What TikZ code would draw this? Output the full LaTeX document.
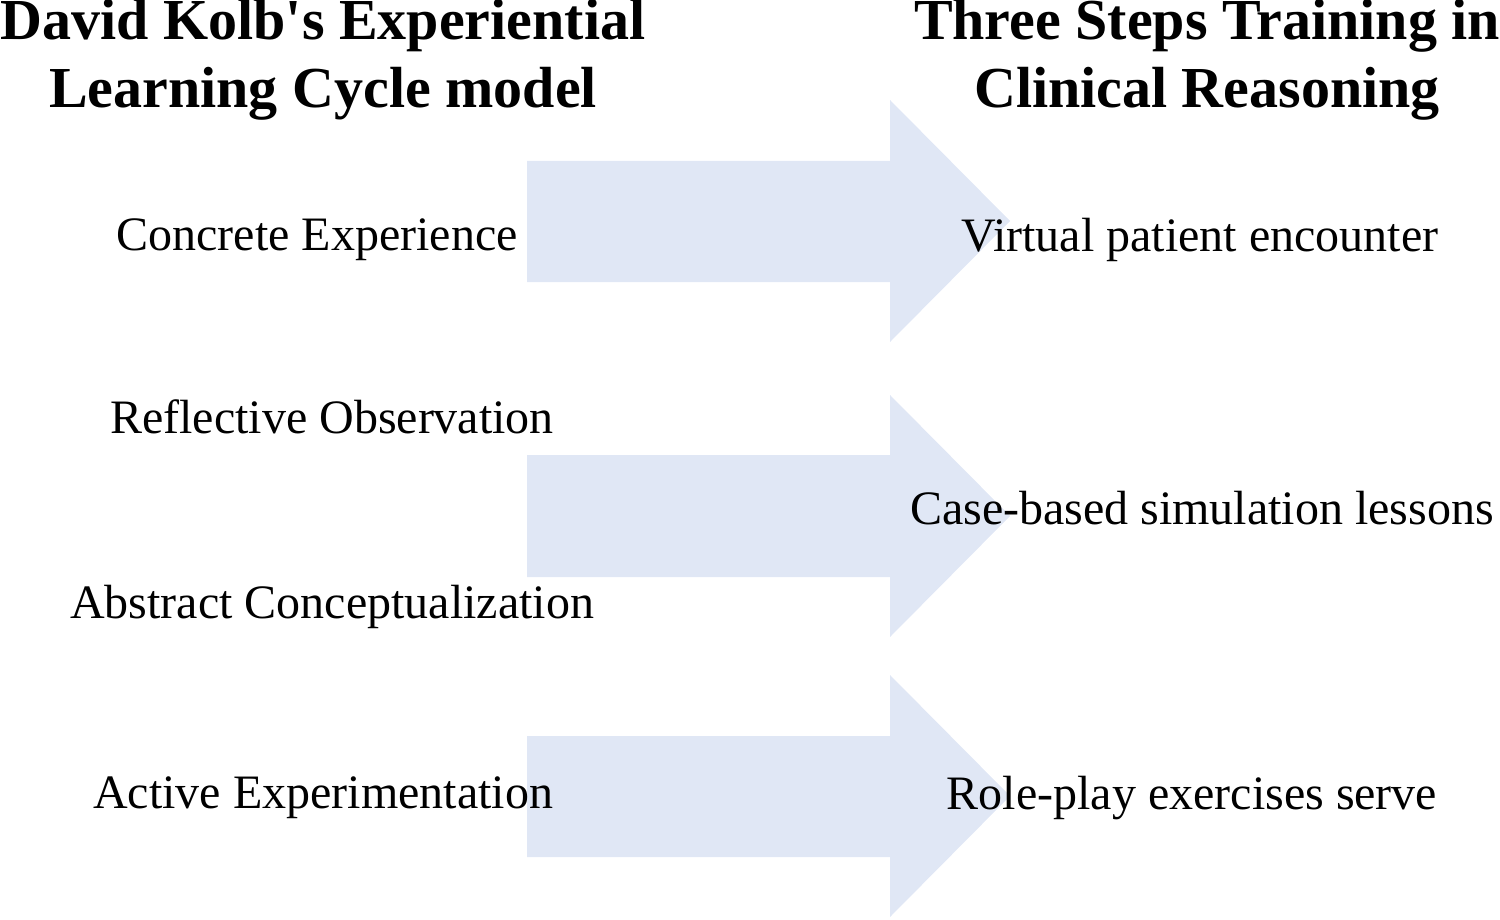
\documentclass[tikz,border=0pt]{standalone}
\usepackage{fontspec}
\setmainfont{Liberation Serif}
\definecolor{arrowfill}{HTML}{E0E7F5}
\begin{document}
\begin{tikzpicture}[x=0.5pt,y=-0.5pt,
  title/.style={font=\fontsize{29}{32}\selectfont\bfseries, align=center, inner sep=0pt},
  lbl/.style={font=\fontsize{24}{27}\selectfont, inner sep=0pt},
  bigarrow/.style={fill=arrowfill, draw=none}]
\useasboundingbox (0,0) rectangle (1500,920);
\foreach \c/\t/\b in {221/161/282, 516/455/577, 796/736/857}{
  \fill[arrowfill] (527,\t) -- (890,\t) -- (890,\c-121) -- (1010,\c) -- (890,\c+121) -- (890,\b) -- (527,\b) -- cycle;
}
\node[title] (tl) at (323,60) {David Kolb\textquotesingle s Experiential\\[2pt]Learning Cycle model};
\node[title] (tr) at (1207,60) {Three Steps Training in\\[2pt]Clinical Reasoning};
\node[lbl] (l1) at (317,240) {Concrete Experience};
\node[lbl] (l2) at (332,417) {Reflective Observation};
\node[lbl] (l3) at (332,607) {Abstract Conceptualization};
\node[lbl] (l4) at (323,798) {Active Experimentation};
\node[lbl] (r1) at (1200,240) {Virtual patient encounter};
\node[lbl] (r2) at (1202,508) {Case-based simulation lessons};
\node[lbl] (r3) at (1192,798) {Role-play exercises serve};
\end{tikzpicture}
\end{document}
